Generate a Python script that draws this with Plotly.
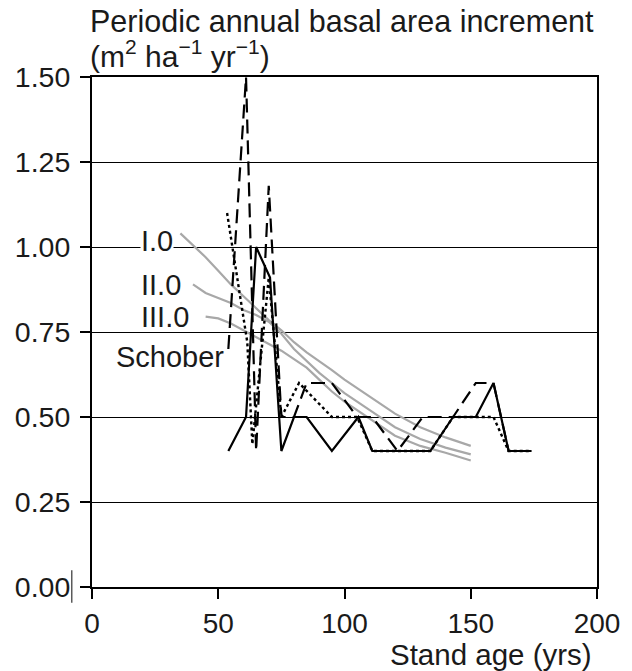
import plotly.graph_objects as go

# Observed stand: periodic annual basal area increment by stand age
age_solid = [54, 61, 65, 70.5, 75, 80, 85, 95, 105.5, 111, 134, 143, 152, 159, 165, 174]
inc_solid = [0.40, 0.50, 1.00, 0.91, 0.40, 0.50, 0.50, 0.40, 0.50, 0.40, 0.40, 0.50, 0.50, 0.60, 0.40, 0.40]

age_dash = [54, 61, 65, 70, 75, 80, 85, 95, 105, 111, 121, 131, 143, 152, 159, 165, 174]
inc_dash = [0.70, 1.50, 0.40, 1.18, 0.50, 0.50, 0.60, 0.60, 0.50, 0.50, 0.40, 0.50, 0.50, 0.60, 0.60, 0.40, 0.40]

age_dot = [53.5, 61.5, 63.5, 70, 75, 82, 95, 105, 111, 134, 143, 159, 165, 174]
inc_dot = [1.10, 0.72, 0.42, 0.91, 0.50, 0.60, 0.50, 0.50, 0.40, 0.40, 0.50, 0.50, 0.40, 0.40]

# Schober yield table, site classes I.0 - III.0
age_I = [35, 40, 45, 50, 55, 60, 65, 70, 75, 80, 85, 90, 95, 100, 110, 120, 130, 140, 150]
inc_I = [1.04, 1.005, 0.97, 0.93, 0.89, 0.855, 0.82, 0.785, 0.755, 0.72, 0.69, 0.665, 0.638,
         0.61, 0.56, 0.51, 0.47, 0.44, 0.415]
age_II = [40, 45, 50, 55, 60, 65, 70, 75, 80, 85, 90, 95, 100, 110, 120, 130, 140, 150]
inc_II = [0.89, 0.865, 0.85, 0.835, 0.815, 0.80, 0.78, 0.745, 0.70, 0.665, 0.63, 0.60, 0.57,
          0.52, 0.47, 0.435, 0.41, 0.39]
age_III = [45, 50, 55, 60, 65, 70, 75, 80, 85, 90, 95, 100, 110, 120, 130, 140, 150]
inc_III = [0.795, 0.79, 0.775, 0.755, 0.735, 0.715, 0.695, 0.67, 0.645, 0.61, 0.575, 0.545,
           0.495, 0.445, 0.415, 0.395, 0.372]

y_ticks = [0.0, 0.25, 0.5, 0.75, 1.0, 1.25, 1.5]
y_ticktext = ["0.00", "0.25", "0.50", "0.75", "1.00", "1.25", "1.50"]
x_ticks = [0, 50, 100, 150, 200]

FONT = "Liberation Sans, Arial, Helvetica, sans-serif"
GRAY = "#a8a8a8"
INK = "#1a1a1a"

fig = go.Figure()
for ax, ay in [(age_I, inc_I), (age_II, inc_II), (age_III, inc_III)]:
    fig.add_trace(go.Scatter(x=ax, y=ay, mode="lines",
                             line=dict(color=GRAY, width=2.2)))

fig.add_trace(go.Scatter(x=age_dot, y=inc_dot, mode="lines",
                         line=dict(color="black", width=2.4, dash="3px,3px")))
fig.add_trace(go.Scatter(x=age_dash, y=inc_dash, mode="lines",
                         line=dict(color="black", width=2.2, dash="14px,7px")))
fig.add_trace(go.Scatter(x=age_solid, y=inc_solid, mode="lines",
                         line=dict(color="black", width=2.2)))

labels = [("I.0", 18.9, 1.018, True), ("II.0", 18.9, 0.888, False),
          ("III.0", 18.9, 0.794, False), ("Schober", 9.1, 0.676, False)]
for text, lx, ly, bg in labels:
    fig.add_annotation(x=lx, y=ly, text=text, showarrow=False, xanchor="left",
                       yanchor="middle", font=dict(family=FONT, size=29, color=INK),
                       bgcolor="white" if bg else "rgba(0,0,0,0)", borderpad=0)

# axis title lines
fig.add_annotation(xref="paper", yref="paper", x=-0.008, y=1.110,
                   text="Periodic annual basal area increment", showarrow=False,
                   xanchor="left", yanchor="middle",
                   font=dict(family=FONT, size=30.5, color=INK))
fig.add_annotation(xref="paper", yref="paper", x=-0.008, y=1.045,
                   text="(m<sup>2</sup> ha<sup>\u22121</sup> yr<sup>\u22121</sup>)", showarrow=False,
                   xanchor="left", yanchor="middle",
                   font=dict(family=FONT, size=30, color=INK))
fig.add_annotation(xref="paper", yref="paper", x=0.994, y=-0.133,
                   text="Stand age (yrs)", showarrow=False,
                   xanchor="right", yanchor="middle",
                   font=dict(family=FONT, size=29.5, color=INK))

# thin stroke beside the zero label
fig.add_shape(type="line", xref="paper", yref="paper", x0=-0.04, x1=-0.04,
              y0=0.033, y1=-0.031, line=dict(color="#333333", width=1.2))

fig.update_layout(
    width=632, height=671,
    margin=dict(l=92, r=32, t=77, b=84),
    paper_bgcolor="white", plot_bgcolor="white",
    showlegend=False,
    font=dict(family=FONT, size=28, color=INK),
)
fig.update_xaxes(range=[0, 200], tickvals=x_ticks, showgrid=False, zeroline=False,
                 showline=True, linecolor="black", linewidth=2, mirror=True,
                 ticks="outside", ticklen=10, tickwidth=2, tickcolor="black",
                 tickfont=dict(family=FONT, size=28, color=INK))
fig.update_yaxes(range=[0, 1.5], tickvals=y_ticks, ticktext=y_ticktext,
                 showgrid=True, gridcolor="black", gridwidth=1.2, zeroline=False,
                 showline=True, linecolor="black", linewidth=2, mirror=True,
                 ticks="outside", ticklen=10, tickwidth=2, tickcolor="black",
                 ticklabelstandoff=4,
                 tickfont=dict(family=FONT, size=28.5, color=INK))

fig.write_html("out.html")
